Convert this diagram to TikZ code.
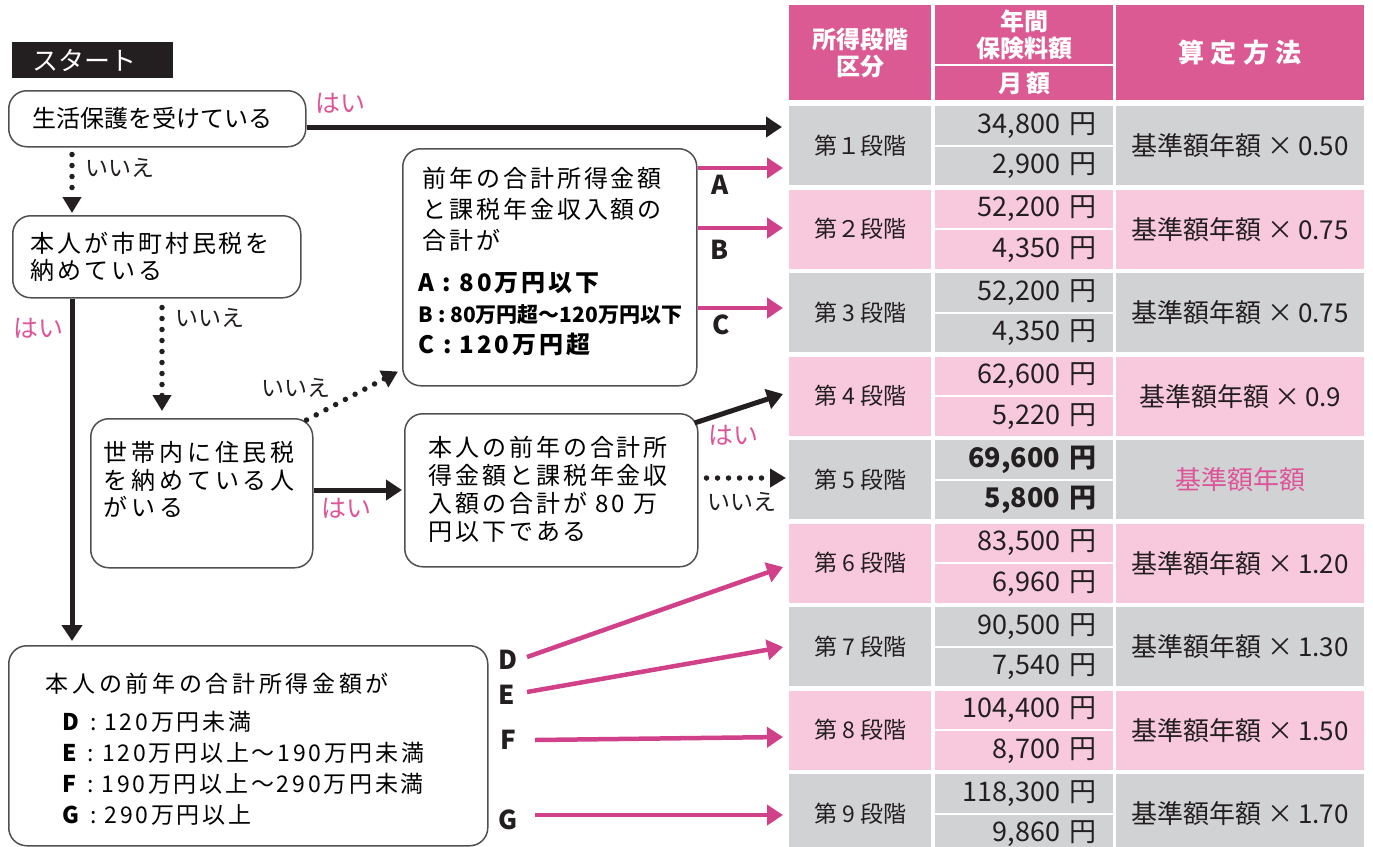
\documentclass[tikz,border=0pt]{standalone}
\usepackage{fontspec}
\setmainfont{Noto Sans CJK JP}
\newfontfamily\jpA[LetterSpace=12]{Noto Sans CJK JP}
\newfontfamily\jpB[LetterSpace=16]{Noto Sans CJK JP}
\newfontfamily\jpC[LetterSpace=25]{Noto Sans CJK JP}
\usetikzlibrary{arrows.meta}
\definecolor{hdr}{HTML}{DB5A94}
\definecolor{pinkrow}{HTML}{F8C8DD}
\definecolor{grayrow}{HTML}{D1D2D4}
\definecolor{pk}{HTML}{D0418A}
\definecolor{pktext}{HTML}{DE5499}
\definecolor{ink}{HTML}{231F20}
\definecolor{boxline}{HTML}{505050}
% box content: #1 W, #2 H, #3 left pad, #4 first baseline from top, #5 font, #6 text
\newcommand\bx[6]{\begin{minipage}[c][#2][t]{#1}#5\raggedright\leftskip=#3\relax\parindent=0pt\relax\rule{0pt}{#4}#6\end{minipage}}
\newcommand\trow[6]{%
  \pgfmathsetmacro\rowtop{106+(#1-1)*83.5}%
  \pgfmathsetmacro\rowlow{\rowtop+40.5}%
  \node[cell, fill=#2, minimum width=142pt, minimum height=79pt, font=\fontsize{23}{23}\selectfont] (c#1) at (789,\rowtop) {#3};
  \node[cell, fill=#2, minimum width=178pt, minimum height=38.5pt, text width=144pt, inner xsep=17pt, align=right] (u#1) at (935,\rowtop) {#4};
  \node[cell, fill=#2, minimum width=178pt, minimum height=38.5pt, text width=144pt, inner xsep=17pt, align=right] (l#1) at (935,\rowlow) {#5};
  \node[cell, fill=#2, minimum width=248pt, minimum height=79pt, font=\fontsize{26}{26}\selectfont] (f#1) at (1116,\rowtop) {#6};
}
\tikzset{
  fbox/.style={draw=boxline, line width=1.5pt, rounded corners=18pt, fill=white, inner sep=0pt, anchor=north west},
  blk/.style={draw=ink, line width=5pt, -{Triangle[length=16pt,width=20pt]}},
  pkarrow/.style={draw=pk, line width=4.5pt, -{Triangle[length=16pt,width=20pt]}},
  dots/.style={draw=ink, line width=5.5pt, line cap=round, dash pattern=on 0pt off 11pt, -{Triangle[length=16pt,width=18pt]}},
  yes/.style={text=pktext, font=\fontsize{25}{25}\selectfont, inner sep=0pt},
  no/.style={text=ink, font=\fontsize{23}{23}\selectfont, inner sep=0pt},
  letter/.style={text=ink, font=\fontsize{26}{26}\selectfont\bfseries, inner sep=0pt},
  cell/.style={inner sep=0pt, anchor=north west, text=ink, font=\fontsize{27}{27}\selectfont},
  hcell/.style={inner sep=0pt, anchor=north west, fill=hdr, text=white, align=center, font=\fontsize{24}{27}\selectfont\bfseries},
}
\begin{document}
\begin{tikzpicture}[x=1pt, y=-1pt]
\fill[white] (0,0) rectangle (1373,846);
\useasboundingbox (0,0) rectangle (1373,846);

% ---------- table ----------
\node[hcell, minimum width=142pt, minimum height=95pt] (h1) at (789,5) {所得段階\\区分};
\node[hcell, minimum width=178pt, minimum height=59pt] (h2) at (935,5) {年間\\保険料額};
\node[hcell, minimum width=178pt, minimum height=34pt] (h3) at (935,66) {月\,額};
\node[hcell, minimum width=248pt, minimum height=95pt, font=\jpC\fontsize{26}{26}\selectfont\bfseries] (h4) at (1116,5) {算定方法};

\trow{1}{grayrow}{第１段階}{34,800 円}{2,900 円}{基準額年額 ×\,0.50}
\trow{2}{pinkrow}{第２段階}{52,200 円}{4,350 円}{基準額年額 ×\,0.75}
\trow{3}{grayrow}{第 3 段階}{52,200 円}{4,350 円}{基準額年額 ×\,0.75}
\trow{4}{pinkrow}{第 4 段階}{62,600 円}{5,220 円}{基準額年額 ×\,0.9}
\trow{5}{grayrow}{第 5 段階}{\textbf{69,600 円}}{\textbf{5,800 円}}{\textcolor{pktext}{基準額年額}}
\trow{6}{pinkrow}{第 6 段階}{83,500 円}{6,960 円}{基準額年額 ×\,1.20}
\trow{7}{grayrow}{第 7 段階}{90,500 円}{7,540 円}{基準額年額 ×\,1.30}
\trow{8}{pinkrow}{第 8 段階}{104,400 円}{8,700 円}{基準額年額 ×\,1.50}
\trow{9}{grayrow}{第 9 段階}{118,300 円}{9,860 円}{基準額年額 ×\,1.70}

% ---------- flowchart boxes ----------
\node[fill=ink, text=white, inner sep=0pt, minimum width=161pt, minimum height=36pt, anchor=north west, font=\fontsize{26}{26}\selectfont] (start) at (12,42) {スタート\hspace*{16pt}};

\node[fbox] (b1) at (8,90) {\bx{297pt}{56pt}{24pt}{37pt}{\fontsize{24}{27}\selectfont}{生活保護を受けている}};
\node[fbox] (b2) at (12,215) {\bx{288pt}{82pt}{18pt}{37pt}{\jpA\fontsize{24}{27}\selectfont}{本人が市町村民税を\\納めている}};
\node[fbox] (b3) at (90,418) {\bx{222pt}{149pt}{13pt}{43pt}{\jpB\fontsize{24}{27.5}\selectfont}{世帯内に住民税\\を納めている人\\がいる}};
\node[fbox] (b4) at (402,148) {\bx{294pt}{237pt}{20pt}{39pt}{\jpA\fontsize{24}{31}\selectfont}{前年の合計所得金額\\と課税年金収入額の\\合計が\\[11pt]
  {\fontsize{24}{33}\selectfont\bfseries\hspace*{-4pt}A : 80万円以下}\\
  {\rmfamily\fontsize{21}{33}\selectfont\bfseries\hspace*{-4pt}B : 80万円超～120万円以下}\\
  {\fontsize{24}{33}\selectfont\bfseries\hspace*{-4pt}C : 120万円超}}};
\node[fbox] (b5) at (404,413) {\bx{293pt}{153pt}{24pt}{43pt}{\jpA\fontsize{24}{28}\selectfont}{本人の前年の合計所\\得金額と課税年金収\\入額の合計が 80 万\\円以下である}};
\node[fbox] (b6) at (8,645) {\bx{479pt}{200pt}{37pt}{47pt}{\jpB\fontsize{23}{31}\selectfont}{本人の前年の合計所得金額が\\[7pt]
  {\jpA\fontsize{23}{31}\selectfont\hspace*{17pt}\textbf{D} : 120万円未満}\\
  {\jpA\fontsize{23}{31}\selectfont\hspace*{17pt}\textbf{E} : 120万円以上～190万円未満}\\
  {\jpA\fontsize{23}{31}\selectfont\hspace*{17pt}\textbf{F} : 190万円以上～290万円未満}\\
  {\jpA\fontsize{23}{31}\selectfont\hspace*{17pt}\textbf{G} : 290万円以上}}};

% ---------- labels ----------
\node[yes] (y1) at (340,103) {はい};
\node[no]  (n1) at (120,168) {いいえ};
\node[yes] (y2) at (38,328) {はい};
\node[no]  (n2) at (210,318) {いいえ};
\node[no]  (n3) at (296,388) {いいえ};
\node[yes] (y3) at (346,508) {はい};
\node[yes] (y4) at (733,435) {はい};
\node[no]  (n4) at (742,502) {いいえ};
\node[letter] (lA) at (720,185) {A};
\node[letter] (lB) at (720,250) {B};
\node[letter] (lC) at (721,325) {C};
\node[letter] (lD) at (508,660) {D};
\node[letter] (lE) at (507,695) {E};
\node[letter] (lF) at (508,740) {F};
\node[letter] (lG) at (508,820) {G};

% ---------- connector helper coordinates ----------
\coordinate (xa) at (72,0);
\coordinate (xb) at (162,0);
\coordinate (t1) at (782,127);
\coordinate (tA) at (783,168);
\coordinate (tB) at (783,228);
\coordinate (tC) at (783,308);
\coordinate (t4) at (783,394);
\coordinate (t5) at (786,478);
\coordinate (yh) at (0,490);
\coordinate (sD) at (527,657);
\coordinate (tD) at (783,567);
\coordinate (sE) at (527,692);
\coordinate (tE) at (783,647);
\coordinate (sF) at (535,740);
\coordinate (tF) at (783,737);
\coordinate (sG) at (535,815);
\coordinate (tG) at (783,815);

% ---------- connectors ----------
\draw[blk] (b1.east |- t1) -- (t1);
\draw[dots, shorten <=7pt, shorten >=2pt] (b1.south -| xa) -- (b2.north -| xa);
\draw[blk, shorten >=4pt] (b2.south -| xa) -- (b6.north -| xa);
\draw[dots, shorten <=9pt, shorten >=7pt] (b2.south -| xb) -- (b3.north -| xb);
\draw[dots] ([shift={(-7,2)}]b3.north east) -- ([shift={(-4,-15)}]b4.south west);
\draw[blk, shorten >=2pt] (b3.east |- yh) -- (b5.west |- yh);
\draw[blk] ([shift={(-4,10)}]b5.north east) -- (t4);
\draw[dots, shorten <=8pt] (b5.east |- t5) -- (t5);
\draw[pkarrow] (b4.east |- tA) -- (tA);
\draw[pkarrow] (b4.east |- tB) -- (tB);
\draw[pkarrow] (b4.east |- tC) -- (tC);
\draw[pkarrow] (sD) -- (tD);
\draw[pkarrow] (sE) -- (tE);
\draw[pkarrow] (sF) -- (tF);
\draw[pkarrow] (sG) -- (tG);
\end{tikzpicture}
\end{document}
